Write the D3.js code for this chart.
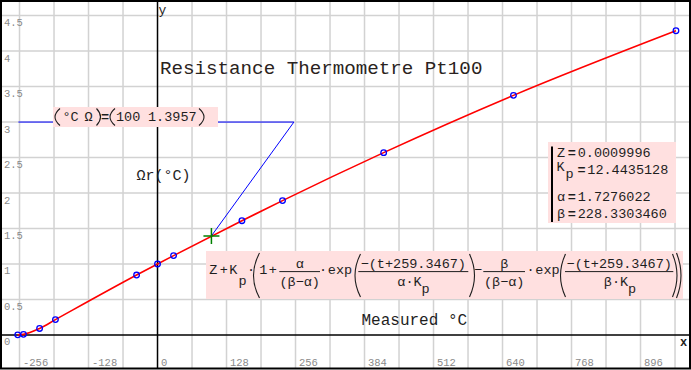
<!DOCTYPE html>
<html><head><meta charset="utf-8">
<script src="https://cdn.jsdelivr.net/npm/d3@7"></script>
<style>
body{margin:0;background:#fff}
svg{display:block}
text{font-family:"Liberation Mono","Courier New",monospace}
</style>
</head><body>
<svg id="c" width="691" height="370"></svg>
<script>
// ---- data (ITS-90 fixed points: temperature °C, resistance ratio W) ----
const tempC  = [-259.3467, -248.5939, -218.7916, -189.3442, -38.8344, 0.01, 29.7646, 156.5985, 231.928, 419.527, 660.323, 961.78];
const ratioW = [0.00119007, 0.00844974, 0.09171804, 0.21585975, 0.84414211, 1.0, 1.11813889, 1.60980185, 1.89279768, 2.5689173, 3.3760086, 4.28642053];
const markT = [100];
const markW = [1.3957];
const leaderT = [-258, 253, 100];
const leaderW = [3.0, 3.0, 1.3957];
const xTickValues = [-256, -128, 0, 128, 256, 384, 512, 640, 768, 896];
const xTickLabels = ["-256", "-128", "0", "128", "256", "384", "512", "640", "768", "896"];
const xGridValues = [-256, -192, -128, -64, 64, 128, 192, 256, 320, 384, 448, 512, 576, 640, 704, 768, 832, 896, 960];
const yTickValues = [0, 0.5, 1, 1.5, 2, 2.5, 3, 3.5, 4, 4.5];
const yTickLabels = ["0", "0.5", "1", "1.5", "2", "2.5", "3", "3.5", "4", "4.5"];
const yGridValues = [0.5, 1, 1.5, 2, 2.5, 3, 3.5, 4, 4.5];
const paramNames = ["Z", "K", "α", "β"];
const paramValues = ["0.0009996", "12.4435128", "1.7276022", "228.3303460"];

const ink = "#1e1e1e", pink = "#ffe0e0", grid = "#d2d2d2", tickCol = "#8a8a8a";
const svg = d3.select("#c");
const x = d3.scaleLinear().domain([-292.2, 987.8]).range([0, 690]);
const y = d3.scaleLinear().domain([-0.48, 4.72]).range([369, 0]);

// grid
svg.append("g").selectAll("line").data(xGridValues).join("line")
  .attr("x1", d => x(d)).attr("x2", d => x(d)).attr("y1", 0).attr("y2", 369)
  .attr("stroke", grid).attr("stroke-width", 1.5);
svg.append("g").selectAll("line").data(yGridValues).join("line")
  .attr("y1", d => y(d)).attr("y2", d => y(d)).attr("x1", 0).attr("x2", 690)
  .attr("stroke", grid).attr("stroke-width", 1.5);

// axes lines
svg.append("line").attr("x1", 0).attr("x2", 690).attr("y1", y(0)).attr("y2", y(0)).attr("stroke", "#000").attr("stroke-width", 1.5);
svg.append("line").attr("x1", x(0)).attr("x2", x(0)).attr("y1", 0).attr("y2", 369).attr("stroke", "#000").attr("stroke-width", 1.5);

// tick labels via d3 axes
const gx = svg.append("g").attr("transform", "translate(0,366)")
  .call(d3.axisBottom(x).tickValues(xTickValues).tickSize(0).tickFormat((d, i) => xTickLabels[i]));
gx.select(".domain").remove();
gx.selectAll("text").attr("x", 3).attr("y", 0).attr("dy", 0).attr("text-anchor", "start")
  .attr("fill", tickCol).attr("font-size", 10.5).attr("font-family", "Liberation Mono, monospace");
const gy = svg.append("g").attr("transform", "translate(4,0)")
  .call(d3.axisRight(y).tickValues(yTickValues).tickSize(0).tickFormat((d, i) => yTickLabels[i]));
gy.select(".domain").remove();
gy.selectAll("text").attr("x", 0).attr("y", 10).attr("dy", 0).attr("text-anchor", "start")
  .attr("fill", tickCol).attr("font-size", 10.5).attr("font-family", "Liberation Mono, monospace");

// axis names
svg.append("text").attr("x", 158.5).attr("y", 14).attr("font-size", 13).attr("fill", ink).text("y");
svg.append("text").attr("x", 680).attr("y", 346).attr("font-size", 12).attr("font-weight", "bold").attr("fill", ink).text("x");

// leader line
const leaderPts = leaderT.map((t, i) => [t, leaderW[i]]);
svg.append("path").attr("d", d3.line().x(d => x(d[0])).y(d => y(d[1]))(leaderPts))
  .attr("fill", "none").attr("stroke", "#0000ff").attr("stroke-width", 1);

// fitted curve through the fixed points
const pts = tempC.map((t, i) => [t, ratioW[i]]);
svg.append("path").attr("d", d3.line().x(d => x(d[0])).y(d => y(d[1])).curve(d3.curveMonotoneX)(pts))
  .attr("fill", "none").attr("stroke", "#ff0000").attr("stroke-width", 1.6);
svg.append("g").selectAll("circle").data(pts).join("circle")
  .attr("cx", d => x(d[0])).attr("cy", d => y(d[1])).attr("r", 2.8)
  .attr("fill", "none").attr("stroke", "#0000ff").attr("stroke-width", 1.3);

// cross marker
markT.forEach((t, i) => {
  const cx = x(t), cy = y(markW[i]);
  svg.append("path").attr("d", `M${cx - 8},${cy}H${cx + 8}M${cx},${cy - 8}V${cy + 8}`)
    .attr("stroke", "#008000").attr("stroke-width", 1.5).attr("fill", "none");
});

// helpers
function t(g, xc, yb, s, o = {}) {
  return g.append("text").attr("x", xc).attr("y", yb).attr("text-anchor", o.anchor || "middle")
    .attr("font-size", o.fs || 13.5).attr("font-weight", o.bold ? "bold" : null)
    .attr("fill", o.fill || ink).text(s);
}
function paren(g, x0, x1, y0, y1, open) {
  const m = (y0 + y1) / 2;
  const d = open ? `M${x1},${y0}Q${2 * x0 - x1},${m} ${x1},${y1}` : `M${x0},${y0}Q${2 * x1 - x0},${m} ${x0},${y1}`;
  g.append("path").attr("d", d).attr("fill", "none").attr("stroke", ink).attr("stroke-width", 1.1);
}
function bar(g, x0, x1, yy) {
  g.append("line").attr("x1", x0).attr("x2", x1).attr("y1", yy).attr("y2", yy).attr("stroke", ink).attr("stroke-width", 1);
}

// annotation label
const lb = svg.append("g");
lb.append("rect").attr("x", 53).attr("y", 107).attr("width", 165).attr("height", 20).attr("fill", pink);
paren(lb, 55, 60, 108.5, 125.5, true);
t(lb, 62.5, 120.7, "°C", { anchor: "start" });
t(lb, 84.5, 120.7, "Ω", { anchor: "start" });
paren(lb, 96.5, 100.5, 108.5, 125.5, false);
t(lb, 105, 120.7, "=", { bold: true });
paren(lb, 110, 115, 108.5, 125.5, true);
t(lb, 116, 120.7, "100", { anchor: "start" });
t(lb, 148, 120.7, "1.3957", { anchor: "start" });
paren(lb, 199, 204, 108.5, 125.5, false);

// title and axis captions
svg.append("text").attr("x", 160).attr("y", 73.5).attr("font-size", 19.2).attr("fill", "#2a2320").text("Resistance Thermometre Pt100");
svg.append("text").attr("x", 136.5).attr("y", 180).attr("font-size", 15).attr("fill", ink).text("Ωr(°C)");
svg.append("text").attr("x", 361.5).attr("y", 325).attr("font-size", 16).attr("fill", ink).text("Measured °C");

// parameter box
const pb = svg.append("g");
pb.append("rect").attr("x", 548).attr("y", 142).attr("width", 128).attr("height", 81).attr("fill", pink);
pb.append("line").attr("x1", 552).attr("x2", 552).attr("y1", 146.5).attr("y2", 222).attr("stroke", "#000").attr("stroke-width", 2);
const pBase = [156.7, 174.3, 200.7, 218.3];
paramNames.forEach((n, i) => {
  if (n === "K") {
    t(pb, 560.5, 171, "K");
    t(pb, 569.5, 177.5, "p");
    t(pb, 581.5, pBase[i], "=", { bold: true });
    t(pb, 587.3, pBase[i], paramValues[i], { anchor: "start" });
  } else {
    t(pb, 561, pBase[i], n);
    t(pb, 571.7, pBase[i], "=", { bold: true });
    t(pb, 577.7, pBase[i], paramValues[i], { anchor: "start" });
  }
});

// formula box
const fm = svg.append("g");
fm.append("rect").attr("x", 206).attr("y", 251).attr("width", 477).attr("height", 48).attr("fill", pink);
const MB = 274.3, NB = 267.7, DB = 285.5, FB = 271.6;
t(fm, 213.3, MB, "Z"); t(fm, 223.7, MB, "+"); t(fm, 233.3, MB, "K"); t(fm, 242.5, 284.8, "p");
t(fm, 251, MB, "·");
paren(fm, 253.5, 259.5, 253, 298, true);
t(fm, 263.3, MB, "1"); t(fm, 272.7, MB, "+");
bar(fm, 279.3, 320, FB);
t(fm, 299.7, NB, "α");
t(fm, 299.7, DB, "(β−α)");
t(fm, 323, MB, "·");
t(fm, 340, MB, "exp");
paren(fm, 355, 360.5, 254, 297, true);
bar(fm, 358.3, 468.3, FB);
t(fm, 413.3, NB, "−(t+259.3467)");
t(fm, 409.5, DB, "α·K"); t(fm, 425.5, DB + 7, "p");
paren(fm, 469.5, 474.5, 254, 297, false);
t(fm, 478, MB, "−");
bar(fm, 483.3, 525, FB);
t(fm, 504.2, NB, "β");
t(fm, 504.2, DB, "(β−α)");
t(fm, 530.5, MB, "·");
t(fm, 547.5, MB, "exp");
paren(fm, 560.5, 565.5, 254, 297, true);
bar(fm, 565, 673.3, FB);
t(fm, 619.2, NB, "−(t+259.3467)");
t(fm, 616, DB, "β·K"); t(fm, 632, DB + 7, "p");
paren(fm, 672.5, 677, 254, 297, false);
paren(fm, 676.5, 681, 253, 298, false);

// outer border
svg.append("rect").attr("x", 1).attr("y", 1).attr("width", 689).attr("height", 367.5)
  .attr("fill", "none").attr("stroke", "#000").attr("stroke-width", 2);
</script>
</body></html>
